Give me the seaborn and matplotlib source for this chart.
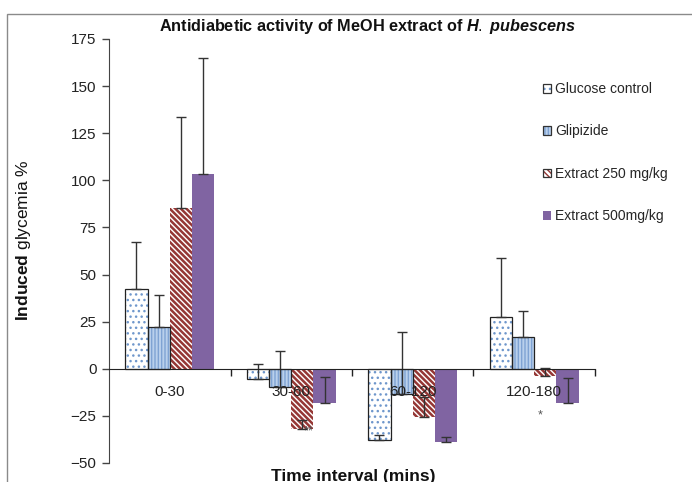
import pandas as pd
import seaborn as sns
import matplotlib.pyplot as plt
from matplotlib.patches import Patch, Rectangle
from matplotlib.legend_handler import HandlerTuple

# values (mean and upper error per time interval)
categories = ["0-30", "30-60", "60-120", "120-180"]
groups = ["Glucose control", "Glipizide", "Extract 250 mg/kg", "Extract 500mg/kg"]
glucose = [42.2, -5.5, -37.6, 27.7]
glucose_err = [25.3, 8.3, 2.7, 31.0]
glipizide = [22.4, -9.7, -13.3, 16.6]
glipizide_err = [16.5, 19.0, 32.8, 14.3]
ext250 = [85.2, -31.8, -25.6, -3.7]
ext250_err = [48.2, 4.8, 10.5, 4.1]
ext500 = [103.2, -18.2, -39.0, -17.9]
ext500_err = [61.5, 14.1, 2.8, 13.0]

values = [glucose, glipizide, ext250, ext500]
errors = [glucose_err, glipizide_err, ext250_err, ext500_err]

rows = []
for g, vals in zip(groups, values):
    for c, v in zip(categories, vals):
        rows.append({"Time": c, "Group": g, "Glycemia": v})
df = pd.DataFrame(rows)

sns.set_style("white")
plt.rcParams["font.family"] = ["Liberation Sans", "DejaVu Sans"]
plt.rcParams["mathtext.fontset"] = "custom"
plt.rcParams["mathtext.rm"] = "Liberation Sans"
plt.rcParams["mathtext.bf"] = "Liberation Sans:bold"
plt.rcParams["mathtext.it"] = "Liberation Sans:italic:bold"
plt.rcParams["hatch.linewidth"] = 1.0

fig = plt.figure(figsize=(6.92, 4.82), dpi=100)
ax = fig.add_axes([109 / 692, 19 / 482, (595 - 109) / 692, (463 - 39) / 482])

sns.barplot(data=df, x="Time", y="Glycemia", hue="Group", order=categories,
            hue_order=groups, errorbar=None, width=0.73, gap=0, legend=False,
            palette=["white", "#b9d0ec", "white", "#8064a2"], ax=ax)

# styles: face, hatch, hatch colour, outline
styles = [
    dict(face="white", hatch="...", hcol="#6f97cc", edge="#222222"),
    dict(face="#b9d0ec", hatch="|||||", hcol="#7fa3d3", edge="#222222"),
    dict(face="white", hatch="\\\\\\\\\\\\", hcol="#953735", edge=None),
    dict(face="#8064a2", hatch=None, hcol="#8064a2", edge=None),
]

handles = []
for cont, st, errs, vals in zip(ax.containers, styles, errors, values):
    xs = []
    for bar in cont:
        bar.set_facecolor(st["face"])
        bar.set_edgecolor(st["hcol"])
        bar.set_linewidth(0)
        if st["hatch"]:
            bar.set_hatch(st["hatch"])
            if st["hatch"].startswith("\\") and hasattr(bar, "set_hatch_linewidth"):
                bar.set_hatch_linewidth(1.8)
        if st["edge"]:
            ax.add_patch(Rectangle(bar.get_xy(), bar.get_width(), bar.get_height(),
                                   fill=False, edgecolor=st["edge"], linewidth=0.9,
                                   zorder=bar.get_zorder() + 0.1))
        xs.append(bar.get_x() + bar.get_width() / 2)
    ax.errorbar(xs, vals, yerr=[[0] * len(errs), errs], fmt="none", ecolor="#333333",
                elinewidth=1, capsize=3.5, capthick=1, zorder=5)
    fill = Patch(facecolor=st["face"], edgecolor=st["hcol"], hatch=st["hatch"], linewidth=0)
    if st["hatch"] is None:
        handles.append(fill)
    else:
        handles.append((fill, Patch(fill=False, edgecolor="#333333", linewidth=0.9)))

ax.set_ylim(-50, 175)
ax.set_xlim(-0.5, 3.5)
ax.set_yticks(range(-50, 176, 25))
ax.set_ylabel("")
ax.set_xlabel("")
ax.spines["top"].set_visible(False)
ax.spines["right"].set_visible(False)
ax.spines["bottom"].set_position(("data", 0))
ax.spines["bottom"].set_color("#222222")
ax.spines["bottom"].set_zorder(6)
ax.spines["left"].set_color("#444444")
ax.xaxis.set_zorder(7)
ax.tick_params(axis="y", direction="out", length=5, width=1, color="#444444",
               labelsize=11, labelcolor="#222222", left=True, pad=4)
ax.set_xticks([0.5, 1.5, 2.5, 3.5], minor=True)
ax.tick_params(axis="x", which="minor", direction="out", length=5, width=1, color="#222222", bottom=True)
ax.tick_params(axis="x", which="major", length=0, labelsize=11, labelcolor="#222222", pad=12)

ax.text(1.145, -33.4, "**", fontsize=9, color="#555555", ha="center", va="center")
ax.text(3.045, -25.0, "*", fontsize=9, color="#555555", ha="center", va="center")

fig.text(368 / 692, 1 - 27 / 482, r"Antidiabetic activity of MeOH extract of $\it{H.\ pubescens}$",
         fontsize=11.7, fontweight="bold", ha="center", va="center", color="#111111")
fig.text(24 / 692, 1 - 240 / 482, r"$\bf{Induced}$ glycemia %", rotation=90,
         fontsize=12.5, ha="center", va="center", color="#111111")
fig.text(353 / 692, 1 - 476 / 482, "Time interval (mins)", fontsize=12.5,
         fontweight="bold", ha="center", va="center", color="#111111")

fig.legend(handles, groups, loc="upper left", bbox_to_anchor=(543 / 692, 1 - 82 / 482),
           frameon=False, handlelength=0.6, handleheight=0.6, handletextpad=0.25,
           labelspacing=2.05, fontsize=10, borderaxespad=0, borderpad=0,
           handler_map={tuple: HandlerTuple(ndivide=1, pad=0)})

fig.patches.append(Rectangle((7 / 692, -0.1), 1.2, 1 - 14 / 482 + 0.1, transform=fig.transFigure,
                             fill=False, edgecolor="#8a8a8a", linewidth=1))

fig.savefig("out.png", dpi=100)
